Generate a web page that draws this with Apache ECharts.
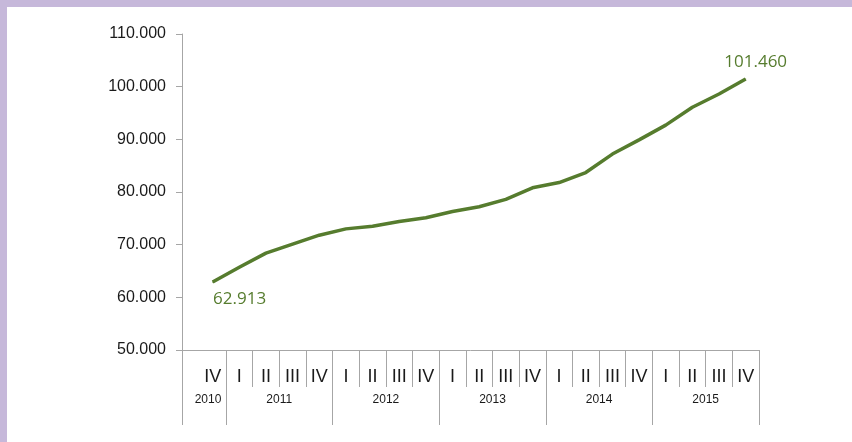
<!DOCTYPE html>
<html>
<head>
<meta charset="utf-8">
<script src="https://cdn.jsdelivr.net/npm/echarts@6/dist/echarts.min.js"></script>
<style>
  html, body { margin: 0; padding: 0; background: #c6b8da; }
  #chart { position: absolute; left: 7px; top: 7px; width: 845px; height: 435px; background: #fff; }
</style>
</head>
<body>
<div id="chart"></div>
<script>
// quarters shown on the axis (2010 IV .. 2015 IV)
const quarters = ['IV', 'I', 'II', 'III', 'IV', 'I', 'II', 'III', 'IV', 'I', 'II', 'III', 'IV',
  'I', 'II', 'III', 'IV', 'I', 'II', 'III', 'IV']
// years and how many quarters each spans
const years = ['2010', '2011', '2012', '2013', '2014', '2015']
const yearQuarters = [1, 4, 4, 4, 4, 4]
// series values
const values = [62913, 65700, 68400, 70100, 71800, 73000, 73500, 74400, 75100, 76300, 77200,
  78600, 80800, 81800, 83700, 87200, 89900, 92700, 96100, 98600, 101460]

const lineColor = '#567c2e'
const gridColor = '#a6a6a6'
const xMin = -1.15
const xMax = quarters.length - 0.5

// year boundaries and label centres in quarter-index units
const yearTicks = [xMin]
const yearCenters = []
let start = -0.5
yearQuarters.forEach((n, i) => {
  const end = start + n
  yearTicks.push(end)
  yearCenters.push(i === 0 ? (xMin + end) / 2 + 0.15 : (start + end) / 2)
  start = end
})
const quarterTicks = quarters.slice(1).map((q, i) => i + 0.5)

const chartInstance = echarts.init(document.getElementById('chart'))

const seriesData = values.map((v, i) => {
  const item = { value: [i, v] }
  if (i === 0) {
    item.label = { show: true, position: 'bottom', distance: 8, offset: [27, 0] }
  } else if (i === values.length - 1) {
    item.label = { show: true, position: 'top', distance: 8, offset: [10, 0] }
  }
  return item
})

const option = {
  animation: false,
  grid: {
    left: 175,
    top: 27,
    right: 93,
    bottom: 92
  },
  xAxis: [
    {
      type: 'value',
      min: xMin,
      max: xMax,
      splitLine: { show: false },
      axisLine: { show: true, onZero: false, lineStyle: { color: gridColor, width: 1 } },
      axisTick: {
        show: true,
        customValues: quarterTicks,
        length: 37,
        lineStyle: { color: gridColor }
      },
      axisLabel: {
        customValues: quarters.map((q, i) => i),
        formatter: v => quarters[Math.round(v)],
        margin: 18,
        fontSize: 18,
        fontFamily: 'Liberation Sans, Arial, sans-serif',
        color: '#1a1a1a'
      }
    },
    {
      type: 'value',
      position: 'bottom',
      min: xMin,
      max: xMax,
      splitLine: { show: false },
      axisLine: { show: false, onZero: false },
      axisTick: {
        show: true,
        customValues: yearTicks,
        length: 75,
        lineStyle: { color: gridColor }
      },
      axisLabel: {
        customValues: yearCenters,
        formatter: v => {
          const idx = yearCenters.findIndex(c => Math.abs(c - v) < 0.01)
          return idx >= 0 ? years[idx] : ''
        },
        margin: 44,
        fontSize: 12,
        fontFamily: 'Liberation Sans, Arial, sans-serif',
        color: '#1a1a1a'
      }
    }
  ],
  yAxis: {
    type: 'value',
    min: 50000,
    max: 110000,
    interval: 10000,
    splitLine: { show: false },
    axisLine: { show: true, onZero: false, lineStyle: { color: gridColor, width: 1 } },
    axisTick: { show: true, inside: false, length: 6, lineStyle: { color: gridColor } },
    axisLabel: {
      margin: 16,
      fontSize: 16,
      fontFamily: 'Liberation Sans, Arial, sans-serif',
      color: '#1a1a1a',
      formatter: v => (v / 1000) + '.000'
    }
  },
  series: [
    {
      type: 'line',
      xAxisIndex: 0,
      data: seriesData,
      symbol: 'circle',
      symbolSize: 1,
      showSymbol: true,
      itemStyle: { color: lineColor },
      lineStyle: { color: lineColor, width: 3.5 },
      label: {
        show: false,
        color: lineColor,
        fontSize: 17,
        fontFamily: 'Open Sans, sans-serif',
        formatter: p => {
          const v = p.value[1]
          return Math.floor(v / 1000) + '.' + String(v % 1000).padStart(3, '0')
        }
      }
    }
  ]
}

chartInstance.setOption(option)
</script>
</body>
</html>
